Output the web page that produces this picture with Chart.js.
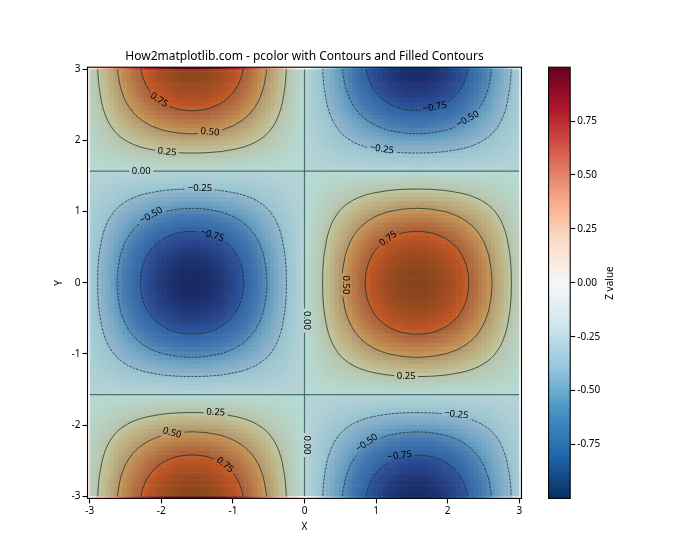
<!DOCTYPE html>
<html><head><meta charset="utf-8">
<style>html,body{margin:0;padding:0;background:#fff}canvas{position:absolute;left:0;top:0}</style>
<script src="https://cdn.jsdelivr.net/npm/chart.js@4"></script></head>
<body><canvas id="main" width="700" height="560"></canvas><canvas id="bar" width="700" height="560"></canvas>
<script>
const titleText='How2matplotlib.com - pcolor with Contours and Filled Contours';
const xTickValues=[-3,-2,-1,0,1,2,3], yTickValues=[-3,-2,-1,0,1,2,3];
const barTickValues=[-0.75,-0.5,-0.25,0,0.25,0.5,0.75];
const fontName='"Noto Sans"';
// quadrant x>0,y>0 (percent); the plot mirrors it about both axes
const zQuadrantRows=[
[3,9,15,21,27,33,38,44,49,54,59,64,69,73,77,81,84,87,90,93,95,96,98,99,100,100,100,100,99,98,96,94,92,90,87,84,80,76,72,68,63,59,54,48,43,37,32,26,20,14],
[3,9,15,21,27,33,38,44,49,54,59,64,69,73,77,81,84,87,90,93,95,96,98,99,99,100,100,99,99,98,96,94,92,90,87,84,80,76,72,68,63,59,54,48,43,37,32,26,20,14],
[3,9,15,21,27,33,38,43,48,53,58,63,68,72,76,80,83,86,89,92,94,95,97,98,99,99,99,99,98,97,95,93,91,89,86,83,79,75,71,67,62,58,53,47,42,37,32,26,20,14],
[3,9,15,21,26,32,37,43,48,53,58,63,67,71,75,79,82,85,88,91,93,94,96,97,98,98,98,98,97,96,94,92,90,88,85,82,78,74,70,67,62,58,53,47,42,36,31,25,20,14],
[3,9,14,20,26,32,37,42,47,52,57,62,66,70,74,78,81,84,87,90,91,92,94,95,96,96,96,96,95,94,92,91,89,87,84,81,77,73,69,65,61,57,52,46,41,36,31,25,19,13],
[3,9,14,20,26,31,36,42,46,51,56,60,65,69,73,77,79,82,85,88,90,91,93,94,95,95,95,95,94,93,91,89,87,85,82,79,76,72,68,64,60,56,51,45,41,35,30,25,19,13],
[3,8,14,19,25,30,35,41,45,50,54,59,64,67,71,75,78,80,83,86,88,89,90,91,92,92,92,92,91,90,89,87,85,83,80,78,74,70,66,63,58,54,50,44,40,34,30,24,18,13],
[3,8,13,19,24,30,34,40,44,48,53,57,62,66,69,73,75,78,81,84,85,86,88,89,90,90,90,90,89,88,86,84,83,81,78,75,72,68,65,61,57,53,48,43,39,33,29,23,18,13],
[3,8,13,18,23,29,33,38,43,47,51,56,60,64,67,70,73,76,78,81,83,84,85,86,87,87,87,87,86,85,84,82,80,78,76,73,70,66,63,59,55,51,47,42,37,32,28,23,17,12],
[3,8,13,18,23,28,32,37,41,45,50,54,58,61,65,68,70,73,76,78,80,81,82,83,84,84,84,84,83,82,81,79,77,76,73,70,67,64,60,57,53,49,45,40,36,31,27,22,17,12],
[2,7,12,17,22,27,31,35,39,43,47,51,55,59,62,65,68,70,72,75,76,77,79,80,80,80,80,80,80,79,77,76,74,72,70,68,64,61,58,55,51,47,43,39,35,30,26,21,16,11],
[2,7,12,16,21,25,29,34,38,41,45,49,53,56,59,62,64,67,69,71,73,74,75,76,77,77,77,77,76,75,74,72,71,69,67,64,61,58,55,52,48,45,41,37,33,28,25,20,15,11],
[2,7,11,15,20,24,28,32,36,39,43,46,50,53,56,59,61,63,65,67,69,70,71,72,73,73,73,73,72,71,70,68,67,65,63,61,58,55,52,49,46,43,39,35,31,27,23,19,15,10],
[2,6,10,14,18,23,26,30,34,37,40,44,47,50,53,55,57,60,62,64,65,66,67,68,68,68,68,68,68,67,66,64,63,62,60,57,55,52,49,47,43,40,37,33,29,25,22,18,14,10],
[2,6,10,13,17,21,24,28,31,34,38,41,44,47,49,52,54,56,57,59,61,61,63,63,64,64,64,64,63,63,61,60,59,57,56,54,51,48,46,43,40,38,34,31,27,24,20,17,13,9],
[2,5,9,12,16,20,22,26,29,32,35,38,41,43,46,48,50,51,53,55,56,57,58,59,59,59,59,59,59,58,57,56,54,53,51,50,47,45,43,40,37,35,32,28,25,22,19,15,12,8],
[2,5,8,11,15,18,21,24,26,29,32,35,37,39,42,44,45,47,49,50,51,52,53,53,54,54,54,54,53,53,52,51,50,49,47,45,43,41,39,37,34,32,29,26,23,20,17,14,11,8],
[1,4,7,10,13,16,19,21,24,26,29,31,34,36,38,40,41,42,44,45,46,47,48,48,49,49,49,49,48,48,47,46,45,44,42,41,39,37,35,33,31,29,26,23,21,18,16,13,10,7],
[1,4,7,9,12,14,17,19,21,23,26,28,30,32,33,35,37,38,39,40,41,42,43,43,44,44,44,44,43,43,42,41,40,39,38,37,35,33,31,30,27,26,23,21,19,16,14,11,9,6],
[1,3,6,8,10,13,14,17,19,20,22,24,26,28,29,31,32,33,34,35,36,36,37,38,38,38,38,38,38,37,36,36,35,34,33,32,30,29,27,26,24,22,20,18,16,14,12,10,8,5],
[1,3,5,7,9,11,12,14,16,17,19,21,22,24,25,26,27,28,29,30,31,31,32,32,32,32,32,32,32,32,31,30,30,29,28,27,26,25,23,22,20,19,17,16,14,12,10,8,6,5],
[1,2,4,6,7,9,10,12,13,14,16,17,18,19,20,21,22,23,24,25,25,25,26,26,26,26,26,26,26,26,25,25,24,24,23,22,21,20,19,18,17,16,14,13,11,10,8,7,5,4],
[1,2,3,4,6,7,8,9,10,11,12,13,14,15,16,17,17,18,18,19,19,20,20,20,21,21,21,21,20,20,20,19,19,18,18,17,16,16,15,14,13,12,11,10,9,8,7,5,4,3],
[0,1,2,3,4,5,6,6,7,8,9,9,10,11,11,12,12,13,13,14,14,14,14,14,15,15,15,15,14,14,14,14,13,13,13,12,12,11,11,10,9,9,8,7,6,5,5,4,3,2],
[0,1,1,2,2,3,3,4,4,5,5,6,6,6,7,7,7,7,8,8,8,8,8,9,9,9,9,9,9,8,8,8,8,8,7,7,7,7,6,6,5,5,5,4,4,3,3,2,2,1],
[0,0,0,1,1,1,1,1,1,1,2,2,2,2,2,2,2,2,2,2,2,2,3,3,3,3,3,3,3,3,2,2,2,2,2,2,2,2,2,2,2,2,1,1,1,1,1,1,1,0],
[0,0,-1,-1,-1,-1,-1,-2,-2,-2,-2,-2,-2,-3,-3,-3,-3,-3,-3,-3,-3,-3,-3,-3,-4,-4,-4,-4,-3,-3,-3,-3,-3,-3,-3,-3,-3,-3,-3,-2,-2,-2,-2,-2,-2,-1,-1,-1,-1,0],
[0,-1,-1,-2,-3,-3,-4,-4,-5,-5,-6,-6,-7,-7,-7,-8,-8,-8,-9,-9,-9,-9,-9,-9,-10,-10,-10,-10,-10,-9,-9,-9,-9,-9,-8,-8,-8,-7,-7,-7,-6,-6,-5,-5,-4,-4,-3,-2,-2,-1],
[0,-1,-2,-3,-4,-5,-6,-7,-8,-8,-9,-10,-11,-11,-12,-13,-13,-14,-14,-15,-15,-15,-15,-15,-16,-16,-16,-16,-15,-15,-15,-15,-14,-14,-14,-13,-12,-12,-11,-11,-10,-9,-8,-7,-7,-6,-5,-4,-3,-2],
[-1,-2,-3,-5,-6,-7,-8,-9,-11,-12,-13,-14,-15,-16,-17,-17,-18,-19,-19,-20,-20,-21,-21,-21,-22,-22,-22,-22,-21,-21,-21,-20,-20,-19,-19,-18,-17,-16,-15,-15,-14,-13,-12,-10,-9,-8,-7,-6,-4,-3],
[-1,-2,-4,-6,-7,-9,-10,-12,-13,-15,-16,-18,-19,-20,-21,-22,-23,-24,-25,-25,-26,-26,-27,-27,-27,-27,-27,-27,-27,-27,-26,-26,-25,-25,-24,-23,-22,-21,-20,-19,-17,-16,-15,-13,-12,-10,-9,-7,-5,-4],
[-1,-3,-5,-7,-9,-11,-13,-15,-16,-18,-20,-21,-23,-24,-26,-27,-28,-29,-30,-31,-32,-32,-33,-33,-33,-33,-33,-33,-33,-33,-32,-31,-31,-30,-29,-28,-27,-25,-24,-23,-21,-20,-18,-16,-14,-12,-11,-9,-7,-5],
[-1,-3,-6,-8,-10,-13,-15,-17,-19,-21,-23,-25,-27,-28,-30,-31,-33,-34,-35,-36,-37,-37,-38,-38,-39,-39,-39,-39,-38,-38,-37,-36,-36,-35,-34,-33,-31,-29,-28,-26,-24,-23,-21,-19,-17,-14,-12,-10,-8,-5],
[-1,-4,-7,-9,-12,-15,-17,-19,-22,-24,-26,-28,-31,-32,-34,-36,-37,-39,-40,-41,-42,-43,-43,-44,-44,-44,-44,-44,-44,-43,-43,-42,-41,-40,-39,-37,-35,-34,-32,-30,-28,-26,-24,-21,-19,-16,-14,-12,-9,-6],
[-1,-4,-7,-10,-13,-16,-19,-22,-24,-27,-29,-32,-34,-36,-38,-40,-42,-43,-45,-46,-47,-48,-49,-49,-50,-50,-50,-50,-49,-49,-48,-47,-46,-45,-43,-42,-40,-38,-36,-34,-31,-29,-27,-24,-21,-18,-16,-13,-10,-7],
[-2,-5,-8,-12,-15,-18,-21,-24,-27,-30,-32,-35,-38,-40,-42,-44,-46,-48,-49,-51,-52,-53,-54,-54,-55,-55,-55,-55,-54,-54,-53,-52,-50,-49,-48,-46,-44,-42,-39,-37,-35,-32,-30,-26,-24,-20,-18,-14,-11,-8],
[-2,-5,-9,-13,-16,-20,-23,-26,-29,-32,-35,-38,-41,-44,-46,-48,-50,-52,-54,-56,-57,-57,-59,-59,-60,-60,-60,-60,-59,-59,-57,-56,-55,-54,-52,-50,-48,-45,-43,-41,-38,-35,-32,-29,-26,-22,-19,-16,-12,-8],
[-2,-6,-10,-14,-17,-21,-25,-28,-32,-35,-38,-41,-45,-47,-50,-52,-54,-56,-58,-60,-61,-62,-63,-64,-65,-65,-65,-65,-64,-63,-62,-61,-59,-58,-56,-54,-52,-49,-47,-44,-41,-38,-35,-31,-28,-24,-21,-17,-13,-9],
[-2,-6,-10,-15,-19,-23,-26,-30,-34,-37,-41,-44,-48,-50,-53,-56,-58,-60,-62,-64,-66,-66,-68,-68,-69,-69,-69,-69,-68,-68,-66,-65,-64,-62,-60,-58,-55,-53,-50,-47,-44,-41,-37,-33,-30,-26,-22,-18,-14,-10],
[-2,-7,-11,-15,-20,-24,-28,-32,-36,-40,-43,-47,-51,-54,-56,-59,-62,-64,-66,-68,-70,-70,-72,-73,-73,-73,-73,-73,-73,-72,-70,-69,-67,-66,-64,-62,-59,-56,-53,-50,-46,-43,-40,-35,-32,-27,-23,-19,-15,-10],
[-2,-7,-12,-16,-21,-26,-29,-34,-38,-42,-46,-49,-53,-56,-60,-63,-65,-67,-70,-72,-73,-74,-76,-77,-77,-77,-77,-77,-77,-76,-74,-73,-71,-70,-67,-65,-62,-59,-56,-53,-49,-46,-42,-37,-33,-29,-25,-20,-15,-11],
[-2,-7,-12,-17,-22,-27,-31,-36,-40,-44,-48,-52,-56,-59,-62,-66,-68,-70,-73,-75,-77,-78,-79,-80,-81,-81,-81,-81,-80,-79,-78,-76,-74,-73,-70,-68,-65,-61,-58,-55,-51,-48,-44,-39,-35,-30,-26,-21,-16,-11],
[-3,-8,-13,-18,-23,-28,-32,-37,-41,-45,-50,-54,-58,-61,-65,-68,-71,-73,-76,-78,-80,-81,-83,-83,-84,-84,-84,-84,-83,-83,-81,-79,-77,-76,-73,-71,-67,-64,-61,-57,-53,-50,-45,-40,-36,-31,-27,-22,-17,-12],
[-3,-8,-13,-18,-24,-29,-33,-38,-43,-47,-52,-56,-60,-64,-67,-71,-73,-76,-79,-81,-83,-84,-86,-87,-87,-87,-87,-87,-87,-86,-84,-82,-80,-79,-76,-73,-70,-66,-63,-59,-55,-52,-47,-42,-38,-32,-28,-23,-17,-12],
[-3,-8,-14,-19,-24,-30,-34,-40,-44,-49,-53,-58,-62,-66,-70,-73,-76,-79,-81,-84,-86,-87,-89,-90,-90,-90,-90,-90,-89,-89,-87,-85,-83,-81,-79,-76,-72,-69,-65,-61,-57,-53,-49,-43,-39,-33,-29,-24,-18,-13],
[-3,-8,-14,-19,-25,-31,-35,-41,-45,-50,-55,-59,-64,-68,-71,-75,-78,-81,-83,-86,-88,-89,-91,-92,-93,-93,-93,-93,-92,-91,-89,-87,-85,-83,-81,-78,-74,-70,-67,-63,-58,-55,-50,-44,-40,-34,-30,-24,-19,-13],
[-3,-9,-14,-20,-26,-31,-36,-42,-46,-51,-56,-61,-65,-69,-73,-77,-80,-82,-85,-88,-90,-91,-93,-94,-95,-95,-95,-95,-94,-93,-91,-89,-87,-85,-82,-80,-76,-72,-68,-64,-60,-56,-51,-46,-41,-35,-30,-25,-19,-13],
[-3,-9,-14,-20,-26,-32,-37,-43,-47,-52,-57,-62,-67,-71,-74,-78,-81,-84,-87,-90,-92,-93,-95,-96,-97,-97,-97,-97,-96,-95,-93,-91,-89,-87,-84,-81,-77,-73,-70,-66,-61,-57,-52,-46,-42,-36,-31,-25,-19,-14],
[-3,-9,-15,-21,-26,-32,-37,-43,-48,-53,-58,-63,-68,-72,-75,-79,-82,-85,-88,-91,-93,-94,-96,-97,-98,-98,-98,-98,-97,-96,-94,-92,-90,-88,-85,-82,-78,-74,-71,-67,-62,-58,-53,-47,-42,-36,-31,-25,-20,-14],
[-3,-9,-15,-21,-27,-33,-38,-44,-49,-53,-58,-63,-68,-72,-76,-80,-83,-86,-89,-92,-94,-95,-97,-98,-99,-99,-99,-99,-98,-97,-95,-93,-91,-89,-86,-83,-79,-75,-71,-67,-62,-58,-53,-48,-43,-37,-32,-26,-20,-14]];
const cmapStops=['#053061','#2166ac','#4393c3','#92c5de','#d1e5f0','#f7f7f7','#fddbc7','#f4a582','#d6604d','#b2182b','#67001f'];
const bandColors=['rgb(71,24,105)','rgb(66,64,133)','rgb(52,98,141)','rgb(38,130,141)','rgb(30,158,135)','rgb(62,188,115)','rgb(130,211,76)','rgb(213,226,26)'];
const octant25=[[0,1.318],[.2,1.313],[.4,1.296],[.6,1.263],[.7,1.238],[.8,1.204],[.9,1.157],[1,1.09],[1.047,1.047]];
const octant50=[[0,1.047],[.2,1.035],[.4,.997],[.5,.964],[.6,.92],[.7,.858],[.785,.785]];
const octant75=[[0,.723],[.1,.717],[.2,.699],[.3,.668],[.4,.619],[.45,.586],[.524,.524]];
const levelCurves=[[.25,octant25],[.5,octant50],[.75,octant75]];
const lobes=[[-1.5708,3.1416,1],[1.5708,3.1416,-1],[-1.5708,0,-1],[1.5708,0,1],[-1.5708,-3.1416,1],[1.5708,-3.1416,-1]];
const quadrants=[[-3,0,1.5708,3,1],[0,3,1.5708,3,-1],[-3,0,-1.5708,1.5708,-1],[0,3,-1.5708,1.5708,1],[-3,0,-3,-1.5708,1],[0,3,-3,-1.5708,-1]];
const zeroLines=[[[0,-3],[0,3]],[[-3,1.5708],[3,1.5708]],[[-3,-1.5708],[3,-1.5708]]];
const contourLabels=[
['0.75',-2.03,2.57,33],['0.50',-1.32,2.12,6],['0.25',-1.92,1.84,6],['0.00',-2.28,1.57,0],['−0.25',-1.46,1.33,0],['−0.50',-2.14,.95,-30],['−0.75',-1.29,.67,18],
['−0.75',1.82,2.47,-10],['−0.50',2.28,2.30,-30],['−0.25',1.08,1.88,8],['0.75',1.17,.62,-35],['0.50',.57,-.03,90],['0.25',1.42,-1.31,0],
['0.25',-1.24,-1.82,2],['0.50',-1.85,-2.11,15],['0.75',-1.11,-2.56,40],['−0.25',2.12,-1.85,6],['−0.50',.87,-2.25,-35],['−0.75',1.33,-2.43,-8],['0.00',.03,-.53,90],['0.00',.03,-2.28,90]];

function hex(c){return [1,3,5].map(i=>parseInt(c.substr(i,2),16));}
function cmap(z){const t=Math.max(0,Math.min(.9999,(z+1)/2))*(cmapStops.length-1),i=Math.floor(t),f=t-i,a=hex(cmapStops[i]),b=hex(cmapStops[i+1]);
 return 'rgb('+a.map((v,k)=>Math.round(v+(b[k]-v)*f)).join(',')+')';}
const N=zQuadrantRows.length, cell=6.0606/(2*N);
const heatPts=[],heatCols=[];
for(let k=0;k<N;k++)for(let m=0;m<N;m++){
 const v=zQuadrantRows[k][m]/100,px=(2*m+1)*cell/2,py=(2*k+1)*cell/2;
 [[px,py,v],[-px,py,-v],[px,-py,v],[-px,-py,-v]].forEach(p=>{heatPts.push({x:p[0],y:p[1]});heatCols.push(cmap(p[2]));});
}
function ring(oct){const q=oct.concat(oct.slice(0,-1).reverse().map(p=>[p[1],p[0]]));
 const a=q.concat(q.slice(0,-1).reverse().map(p=>[p[0],-p[1]]));
 return a.concat(a.slice(1,-1).reverse().map(p=>[-p[0],p[1]]));}
const curves=[];
lobes.forEach(l=>levelCurves.forEach(([lv,oct])=>{const r=ring(oct).map(p=>({x:l[0]+p[0],y:l[1]+p[1]}));r.push(r[0]);curves.push({level:lv*l[2],pts:r});}));
zeroLines.forEach(z=>curves.push({level:0,pts:z.map(p=>({x:p[0],y:p[1]}))}));

const lblFont='9.5px '+fontName;
function labelPath(ctx,chart){const sx=chart.scales.x,sy=chart.scales.y;ctx.font=lblFont;
 contourLabels.forEach(l=>{const x=sx.getPixelForValue(l[1]),y=sy.getPixelForValue(l[2]),a=l[3]*Math.PI/180,w=ctx.measureText(l[0]).width/2+2.5,h=6;
  const c=Math.cos(a),s=Math.sin(a);
  ctx.moveTo(x-w*c+h*s,y-w*s-h*c);ctx.lineTo(x+w*c+h*s,y+w*s-h*c);ctx.lineTo(x+w*c-h*s,y+w*s+h*c);ctx.lineTo(x-w*c-h*s,y-w*s+h*c);ctx.closePath();});}
const plot={id:'plot',
 afterDatasetDraw(chart,args){const sx=chart.scales.x,sy=chart.scales.y,ctx=chart.ctx;
  if(chart.data.datasets[args.index].isHeat){
   const off=document.createElement('canvas');off.width=chart.width;off.height=chart.height;const o=off.getContext('2d');
   const X=v=>sx.getPixelForValue(v),Y=v=>sy.getPixelForValue(v);
   o.beginPath();o.rect(X(-3),Y(3),X(3)-X(-3),Y(-3)-Y(3));o.clip();
   quadrants.forEach(q=>{o.fillStyle=bandColors[q[4]>0?4:3];o.fillRect(X(q[0]),Y(q[3]),X(q[1])-X(q[0]),Y(q[2])-Y(q[3]));});
   [.25,.5,.75].forEach((lv,li)=>curves.filter(c=>Math.abs(c.level)===lv).forEach(c=>{
    o.fillStyle=bandColors[c.level>0?5+li:2-li];o.beginPath();c.pts.forEach((p,i)=>i?o.lineTo(X(p.x),Y(p.y)):o.moveTo(X(p.x),Y(p.y)));o.closePath();o.fill();}));
   ctx.save();ctx.globalAlpha=.3;ctx.drawImage(off,0,0);ctx.restore();
  } else ctx.restore();
 },
 beforeDatasetDraw(chart,args){if(chart.data.datasets[args.index].isHeat)return;const ctx=chart.ctx;ctx.save();ctx.beginPath();ctx.rect(0,0,chart.width,chart.height);labelPath(ctx,chart);ctx.clip('evenodd');},
 afterDatasetsDraw(chart){const ctx=chart.ctx,sx=chart.scales.x,sy=chart.scales.y;ctx.save();ctx.font=lblFont;ctx.fillStyle='#000';ctx.textAlign='center';ctx.textBaseline='middle';
  contourLabels.forEach(l=>{ctx.save();ctx.translate(sx.getPixelForValue(l[1]),sy.getPixelForValue(l[2]));ctx.rotate(l[3]*Math.PI/180);ctx.fillText(l[0],0,0);ctx.restore();});
  const a=chart.chartArea;ctx.strokeStyle='#000';ctx.lineWidth=1.1;ctx.strokeRect(a.left,a.top,a.right-a.left,a.bottom-a.top);ctx.restore();}
};
const tickFont={family:fontName,size:10};
const axisCommon={type:'linear',min:-3.0303,max:3.0303,grid:{drawOnChartArea:false,drawTicks:true,tickLength:5,tickColor:'#000',tickWidth:1.1},border:{display:false},
 ticks:{font:tickFont,color:'#000',padding:2,maxRotation:0,autoSkip:false,callback:v=>String(v)}};
new Chart(document.getElementById('main'),{type:'scatter',
 data:{datasets:[{isHeat:true,data:heatPts,order:10,pointStyle:'rect',pointBackgroundColor:heatCols,pointBorderWidth:0,clip:0,showLine:false,
   pointRadius:(434/(2*N)+.6)/2*Math.SQRT2,pointHoverRadius:0}].concat(curves.map(c=>({data:c.pts,order:1,showLine:true,pointRadius:0,clip:-2,
   borderColor:c.level===0?'rgba(50,85,85,.8)':'rgba(15,45,35,.9)',borderWidth:c.level===0?1.2:.8,borderDash:c.level<0?[2.6,1.1]:[],tension:c.level===0?0.001:.2,fill:false})))},
 options:{responsive:false,animation:false,events:[],
  layout:{padding:{left:0,right:178.5,top:0,bottom:0}},
  plugins:{legend:{display:false},tooltip:{enabled:false},
   title:{display:true,fullSize:false,text:titleText,color:'#000',font:{family:fontName,size:12,weight:'normal'},padding:{top:49,bottom:3.8}}},
  scales:{
   x:{...axisCommon,afterFit:s=>{s.height=61.6;},afterBuildTicks:s=>{s.ticks=xTickValues.map(v=>({value:v}));},
    title:{display:true,text:'X',color:'#000',font:tickFont,padding:{top:0,bottom:27}}},
   y:{...axisCommon,afterFit:s=>{s.width=87.5;},afterBuildTicks:s=>{s.ticks=yTickValues.map(v=>({value:v}));},
    title:{display:true,text:'Y',color:'#000',font:tickFont,padding:{top:53,bottom:0}}}}},
 plugins:[plot]});
const barFrame={id:'barFrame',afterDatasetsDraw(chart){const ctx=chart.ctx,a=chart.chartArea;ctx.save();ctx.strokeStyle='#000';ctx.lineWidth=1.1;ctx.strokeRect(a.left,a.top,a.right-a.left,a.bottom-a.top);
  ctx.font='10px '+fontName;ctx.fillStyle='#000';ctx.textAlign='center';ctx.textBaseline='middle';ctx.translate(610,283);ctx.rotate(-Math.PI/2);ctx.fillText('Z value',0,0);ctx.restore();}};
new Chart(document.getElementById('bar'),{type:'bar',
 data:{labels:['Z'],datasets:[{data:[[-.9998,.9998]],barPercentage:1,categoryPercentage:1,borderWidth:0,
  backgroundColor:ctx=>{const a=ctx.chart.chartArea;if(!a)return '#888';const g=ctx.chart.ctx.createLinearGradient(0,a.bottom,0,a.top);cmapStops.forEach((c,i)=>g.addColorStop(i/(cmapStops.length-1),c));return g;}}]},
 options:{responsive:false,animation:false,events:[],layout:{padding:{left:548.6,right:0,top:67.2,bottom:61.6}},
  plugins:{legend:{display:false},tooltip:{enabled:false}},
  scales:{x:{display:false},y:{position:'right',type:'linear',min:-.9998,max:.9998,afterFit:s=>{s.width=129.8;},afterBuildTicks:s=>{s.ticks=barTickValues.map(v=>({value:v}));},
   grid:{drawOnChartArea:false,tickLength:5,tickColor:'#000',tickWidth:1.1},border:{display:false},
   ticks:{font:tickFont,color:'#000',padding:2,autoSkip:false,callback:v=>v.toFixed(2)}}}},
 plugins:[barFrame]});
</script></body></html>
